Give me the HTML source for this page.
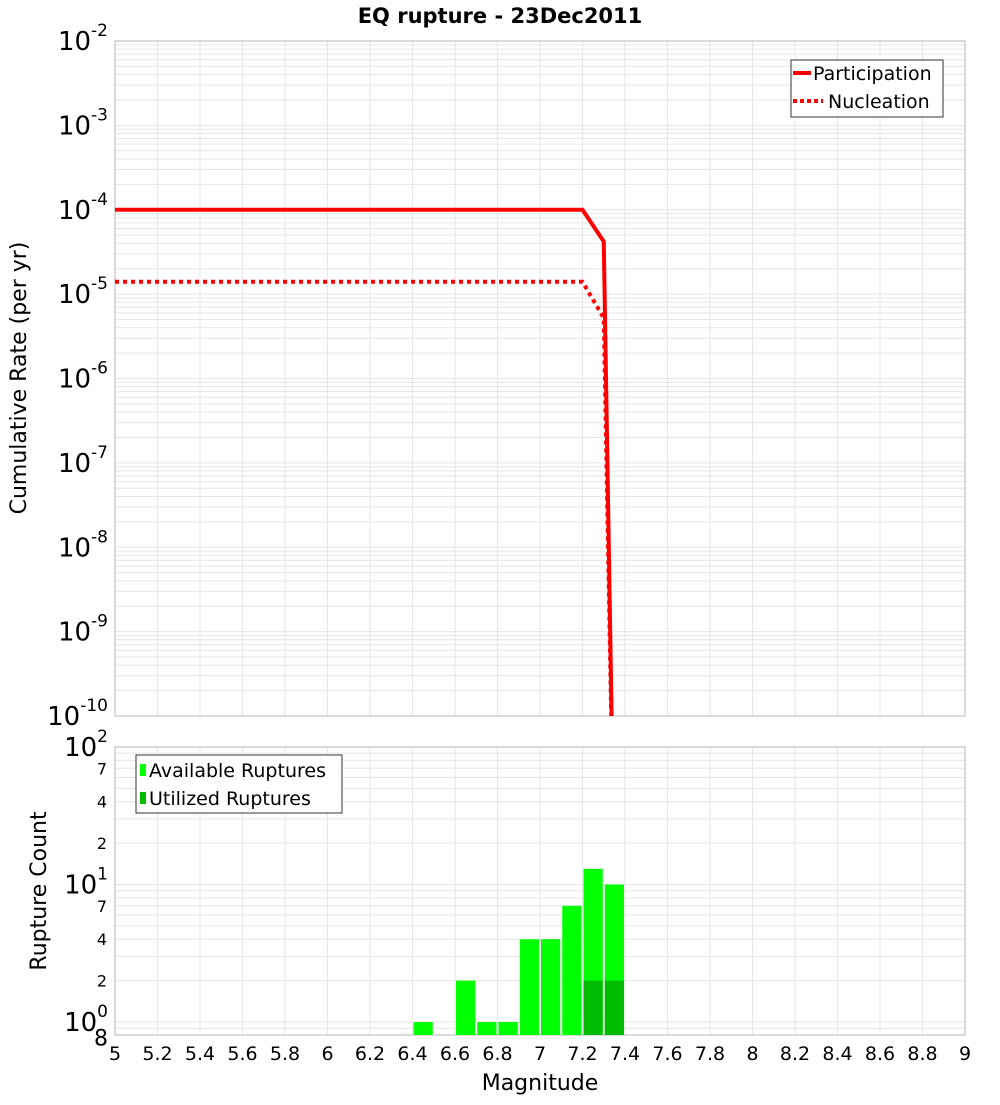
<!DOCTYPE html>
<html><head><meta charset="utf-8"><style>
body{margin:0;background:#fff;font-family:"Liberation Sans","DejaVu Sans",sans-serif}
svg text{font-family:"DejaVu Sans","Liberation Sans",sans-serif}
</style></head><body>
<svg id="chart" width="1000" height="1100" viewBox="0 0 1000 1100" xmlns="http://www.w3.org/2000/svg">
<text x="500" y="23" font-size="21" font-weight="bold" text-anchor="middle">EQ rupture - 23Dec2011</text>
<g id="topg"></g><g id="botg"></g>
<text transform="translate(26,378) rotate(-90)" font-size="22" text-anchor="middle">Cumulative Rate (per yr)</text>
<text transform="translate(46,891) rotate(-90)" font-size="22" text-anchor="middle">Rupture Count</text>
<text x="540" y="1090" font-size="22" text-anchor="middle">Magnitude</text>
</svg>
<script>
const partMag=[5,7.2,7.3,7.35];
const partRate=[1e-4,1e-4,4.2e-5,1e-12];
const nuclMag=[5,7.2,7.3,7.35];
const nuclRate=[1.4e-5,1.4e-5,5.2e-6,1e-12];
const binMag=[6.4,6.6,6.7,6.8,6.9,7.0,7.1,7.2,7.3];
const availCount=[1,2,1,1,4,4,7,13,10];
const utilMag=[7.2,7.3];
const utilCount=[2,2];
const xTicks=[5,5.2,5.4,5.6,5.8,6,6.2,6.4,6.6,6.8,7,7.2,7.4,7.6,7.8,8,8.2,8.4,8.6,8.8,9];

const NS='http://www.w3.org/2000/svg';
const L=115,R=965,T1=41,B1=716,T2=747,B2=1035;
const X=m=>L+(m-5)/4*(R-L);
const Y1=v=>T1+(-2-Math.log10(v))*(B1-T1)/8;
const Y2=v=>1022-Math.log10(v)*137.5;
function mk(p,tag,a){const e=document.createElementNS(NS,tag);for(const k in a)e.setAttribute(k,a[k]);p.appendChild(e);return e;}
const topG=document.getElementById('topg'),botG=document.getElementById('botg');
for(let d=-10;d<-2;d++)for(let k=1;k<10;k++){const y=Y1(k*Math.pow(10,d));if(y<T1)continue;
const g=mk(topG,'line',{x1:L,x2:R,y1:y,y2:y,stroke:'#e6e6e6','stroke-width':1});

}
for(const t of xTicks){for(const [p,a,b] of [[topG,T1,B1],[botG,T2,B2]]){const g=mk(p,'line',{x1:X(t),x2:X(t),y1:a,y2:b,stroke:'#e6e6e6'});

}}
const f1=mk(topG,'rect',{x:L,y:T1,width:R-L,height:B1-T1,fill:'none',stroke:'#b4b4b4'});


for(let d=-10;d<=-2;d++){const y=Y1(Math.pow(10,d));
const t=mk(topG,'text',{x:108,y:y+9,'font-size':26,'text-anchor':'end'});


t.innerHTML='10<tspan dy="-14" font-size="17">'+d+'</tspan>';}
const cp=mk(topG,'clipPath',{id:'c1'});mk(cp,'rect',{x:L,y:T1,width:R-L,height:B1-T1});
const pl=mk(topG,'polyline',{points:partMag.map((m,i)=>X(m)+','+Y1(partRate[i])).join(' '),fill:'none',stroke:'#f00','stroke-width':4,'clip-path':'url(#c1)'});


const nl=mk(topG,'polyline',{points:nuclMag.map((m,i)=>X(m)+','+Y1(nuclRate[i])).join(' '),fill:'none',stroke:'#f00','stroke-width':4,'stroke-dasharray':'4 4','clip-path':'url(#c1)'});


const lg=mk(topG,'g',{});


mk(lg,'rect',{x:791,y:60,width:152,height:57,fill:'#fff',stroke:'#333'});
mk(lg,'line',{x1:793,x2:811,y1:73,y2:73,stroke:'#f00','stroke-width':4});
mk(lg,'line',{x1:793,x2:823,y1:101,y2:101,stroke:'#f00','stroke-width':4,'stroke-dasharray':'4 3'});
const lt1=mk(lg,'text',{x:813,y:80,'font-size':19});lt1.textContent='Participation';
const lt2=mk(lg,'text',{x:828,y:108,'font-size':19});lt2.textContent='Nucleation';
for(let d=-1;d<2;d++)for(let k=1;k<10;k++){const v=k*Math.pow(10,d);const y=Y2(v);if(y>B2||y<T2)continue;
const g=mk(botG,'line',{x1:L,x2:R,y1:y,y2:y,stroke:'#e6e6e6'});

}
const f2=mk(botG,'rect',{x:L,y:T2,width:R-L,height:B2-T2,fill:'none',stroke:'#b4b4b4'});


binMag.forEach((m,i)=>{const y=Y2(availCount[i]);
const b=mk(botG,'rect',{x:X(m)+1,y:y,width:X(m+0.1)-X(m)-2,height:B2-y,fill:'#00ff00'});

});
utilMag.forEach((m,i)=>{const y=Y2(utilCount[i]);
const b=mk(botG,'rect',{x:X(m)+1,y:y,width:X(m+0.1)-X(m)-2,height:B2-y,fill:'#00bb00'});

});
for(const d of [0,1,2]){const y=Y2(Math.pow(10,d));
const t=mk(botG,'text',{x:108,y:y+9,'font-size':26,'text-anchor':'end'});


t.innerHTML='10<tspan dy="-14" font-size="17">'+d+'</tspan>';}
for(const v of [2,4,7,20,40,70,0.8]){const y=Y2(v);
const t=mk(botG,'text',{x:v===0.8?108:107,y:y+(v===0.8?10:6),'font-size':v===0.8?22:16,'text-anchor':'end'});


t.textContent=String(v<1?8:String(v)[0]);}
for(const t of xTicks){const e=mk(botG,'text',{x:X(t),y:1060,'font-size':19,'text-anchor':'middle'});


e.textContent=String(t);}
const lb=mk(botG,'g',{});


mk(lb,'rect',{x:136,y:755,width:206,height:58,fill:'#fff',stroke:'#333'});
mk(lb,'rect',{x:140,y:764,width:6,height:12,fill:'#00ff00'});
mk(lb,'rect',{x:140,y:792,width:6,height:12,fill:'#00bb00'});
const b1=mk(lb,'text',{x:149,y:777,'font-size':19});b1.textContent='Available Ruptures';
const b2=mk(lb,'text',{x:149,y:805,'font-size':19});b2.textContent='Utilized Ruptures';
</script>
</body></html>
